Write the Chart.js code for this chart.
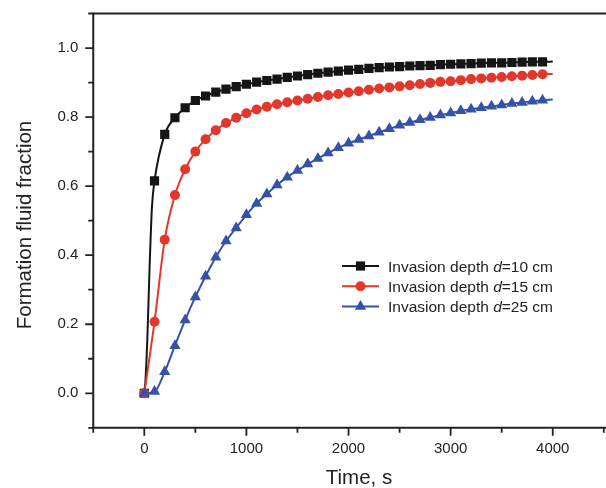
<!DOCTYPE html>
<html>
<head>
<meta charset="utf-8">
<script src="https://cdn.jsdelivr.net/npm/chart.js@4"></script>
<style>
  html, body { margin: 0; padding: 0; background: #fff; }
  #chart { display: block; }
</style>
</head>
<body>
<canvas id="chart" width="606" height="488"></canvas>
<script>
// ── Data ──
const timeS = [0,100,200,300,400,500,600,700,800,900,1000,1100,1200,1300,1400,1500,1600,1700,1800,1900,
               2000,2100,2200,2300,2400,2500,2600,2700,2800,2900,3000,3100,3200,3300,3400,3500,3600,3700,3800,3900,4000];

const frac10 = [0,0.615,0.750,0.798,0.827,0.848,0.861,0.872,0.881,0.888,0.895,0.901,0.906,0.910,0.915,0.919,0.923,0.927,0.930,0.933,
                0.936,0.938,0.941,0.943,0.945,0.946,0.948,0.949,0.950,0.952,0.953,0.954,0.955,0.956,0.957,0.957,0.958,0.959,0.960,0.960,0.961];
const frac15 = [0,0.207,0.445,0.574,0.649,0.700,0.736,0.762,0.783,0.798,0.811,0.822,0.830,0.837,0.843,0.848,0.853,0.858,0.863,0.867,
                0.871,0.875,0.879,0.883,0.886,0.889,0.892,0.896,0.899,0.902,0.904,0.907,0.910,0.912,0.914,0.916,0.918,0.920,0.922,0.924,0.925];
const frac25 = [0,0.005,0.062,0.138,0.212,0.279,0.339,0.394,0.441,0.479,0.517,0.550,0.577,0.603,0.626,0.645,0.664,0.680,0.696,0.711,
                0.724,0.735,0.745,0.756,0.766,0.776,0.784,0.792,0.799,0.806,0.812,0.818,0.823,0.827,0.831,0.835,0.839,0.842,0.846,0.849,0.851];

// curve-only points (no marker) on the steep start of the d=10 cm curve
const early10T = [10, 30, 50, 75];
const early10F = [0.03, 0.16, 0.35, 0.54];

const lastMarkerT = 3900;

const xTicks = [0, 1000, 2000, 3000, 4000];
const xMinor = [-500, 500, 1500, 2500, 3500, 4500];
const yTicks = [0, 0.2, 0.4, 0.6, 0.8, 1.0];
const yMinor = [-0.1, 0.1, 0.3, 0.5, 0.7, 0.9, 1.1];

const SERIES = [
  { depth: '10', color: '#151515', style: 'rect',     r: 6.5, order: 3 },
  { depth: '15', color: '#e2372a', style: 'circle',   r: 5,   order: 2 },
  { depth: '25', color: '#3552a9', style: 'triangle', r: 6.5, order: 1 },
];

const FONT = "'Liberation Sans', Arial, Helvetica, sans-serif";
const INK = '#222';

function points(ts, fs, extraT, extraF) {
  const pts = ts.map((t, i) => ({ x: t, y: fs[i], m: t <= lastMarkerT }));
  (extraT || []).forEach((t, i) => pts.push({ x: t, y: extraF[i], m: false }));
  return pts.sort((a, b) => a.x - b.x);
}

function drawMarker(ctx, style, x, y, r) {
  ctx.beginPath();
  if (style === 'rect') {
    const s = r * Math.SQRT1_2;
    ctx.rect(x - s, y - s, 2 * s, 2 * s);
  } else if (style === 'circle') {
    ctx.arc(x, y, r, 0, Math.PI * 2);
  } else {
    const dx = r * Math.sin(Math.PI * 2 / 3);
    ctx.moveTo(x, y - r);
    ctx.lineTo(x + dx, y + r / 2);
    ctx.lineTo(x - dx, y + r / 2);
    ctx.closePath();
  }
  ctx.fill();
}

function noPad(s) {
  s.paddingTop = s.paddingBottom = s.paddingLeft = s.paddingRight = 0;
}

// ── Axes, ticks, titles, legend ──
const frame = {
  id: 'frame',
  afterDraw(chart) {
    const { ctx, chartArea: a, scales: { x, y } } = chart;
    ctx.save();
    ctx.strokeStyle = INK;
    ctx.lineWidth = 2;
    ctx.beginPath();
    ctx.moveTo(a.left, a.top); ctx.lineTo(a.left, a.bottom + 1);
    ctx.moveTo(a.left - 1, a.bottom); ctx.lineTo(chart.width, a.bottom);
    ctx.moveTo(a.left - 1, a.top); ctx.lineTo(chart.width, a.top);
    ctx.stroke();

    ctx.lineWidth = 1.8;
    ctx.beginPath();
    xTicks.forEach(v => { const p = x.getPixelForValue(v); ctx.moveTo(p, a.bottom); ctx.lineTo(p, a.bottom + 8); });
    xMinor.forEach(v => { const p = x.getPixelForValue(v); ctx.moveTo(p, a.bottom); ctx.lineTo(p, a.bottom + 5); });
    yTicks.forEach(v => { const p = y.getPixelForValue(v); ctx.moveTo(a.left, p); ctx.lineTo(a.left - 8, p); });
    yMinor.forEach(v => { const p = y.getPixelForValue(v); ctx.moveTo(a.left, p); ctx.lineTo(a.left - 5, p); });
    ctx.stroke();

    // axis titles
    ctx.fillStyle = INK;
    ctx.font = `20.5px ${FONT}`;
    ctx.textAlign = 'center';
    ctx.textBaseline = 'alphabetic';
    ctx.fillText('Time, s', 359, 484);
    ctx.save();
    ctx.translate(31, 225);
    ctx.rotate(-Math.PI / 2);
    ctx.fillText('Formation fluid fraction', 0, 0);
    ctx.restore();

    // legend
    ctx.textAlign = 'left';
    SERIES.forEach((s, i) => {
      const cy = 266 + i * 20.3;
      ctx.strokeStyle = s.color;
      ctx.lineWidth = 2;
      ctx.beginPath(); ctx.moveTo(342, cy); ctx.lineTo(379, cy); ctx.stroke();
      ctx.fillStyle = s.color;
      drawMarker(ctx, s.style, 360.5, cy, s.r);
      ctx.fillStyle = INK;
      let tx = 388;
      const base = cy + 5.5;
      ctx.font = `15.5px ${FONT}`;
      ctx.fillText('Invasion depth ', tx, base); tx += ctx.measureText('Invasion depth ').width;
      ctx.font = `italic 15.5px ${FONT}`;
      ctx.fillText('d', tx, base); tx += ctx.measureText('d').width;
      ctx.font = `15.5px ${FONT}`;
      ctx.fillText(`=${s.depth} cm`, tx, base);
    });
    ctx.restore();
  }
};

const fracs = [frac10, frac15, frac25];
const datasets = SERIES.map((s, i) => ({
  label: `Invasion depth d=${s.depth} cm`,
  data: i === 0 ? points(timeS, fracs[i], early10T, early10F) : points(timeS, fracs[i]),
  borderColor: s.color,
  backgroundColor: s.color,
  borderWidth: 2,
  pointStyle: s.style,
  pointRadius: ctx => (ctx.raw && ctx.raw.m ? s.r : 0),
  pointBackgroundColor: s.color,
  pointBorderWidth: 0,
  cubicInterpolationMode: 'monotone',
  order: s.order,
}));

new Chart(document.getElementById('chart'), {
  type: 'line',
  data: { datasets },
  plugins: [frame],
  options: {
    responsive: false,
    animation: false,
    devicePixelRatio: 1,
    layout: { autoPadding: false, padding: { top: 13.5, right: 2.2, bottom: 0, left: 0 } },
    plugins: { legend: { display: false }, tooltip: { enabled: false } },
    scales: {
      x: {
        type: 'linear',
        min: -500, max: 4500,
        afterBuildTicks: s => { s.ticks = xTicks.map(v => ({ value: v })); },
        afterFit: s => { s.height = 60.2; noPad(s); },
        grid: { display: false, drawTicks: false },
        border: { display: false },
        ticks: { font: { family: FONT, size: 15 }, color: INK, padding: 12, maxRotation: 0,
                 callback: v => String(v) },
      },
      y: {
        type: 'linear',
        min: -0.1, max: 1.1,
        afterBuildTicks: s => { s.ticks = yTicks.map(v => ({ value: v })); },
        afterFit: s => { s.width = 93.25; noPad(s); },
        grid: { display: false, drawTicks: false },
        border: { display: false },
        ticks: { font: { family: FONT, size: 15 }, color: INK, padding: 15,
                 callback: v => Number(v).toFixed(1) },
      }
    }
  }
});
</script>
</body>
</html>
